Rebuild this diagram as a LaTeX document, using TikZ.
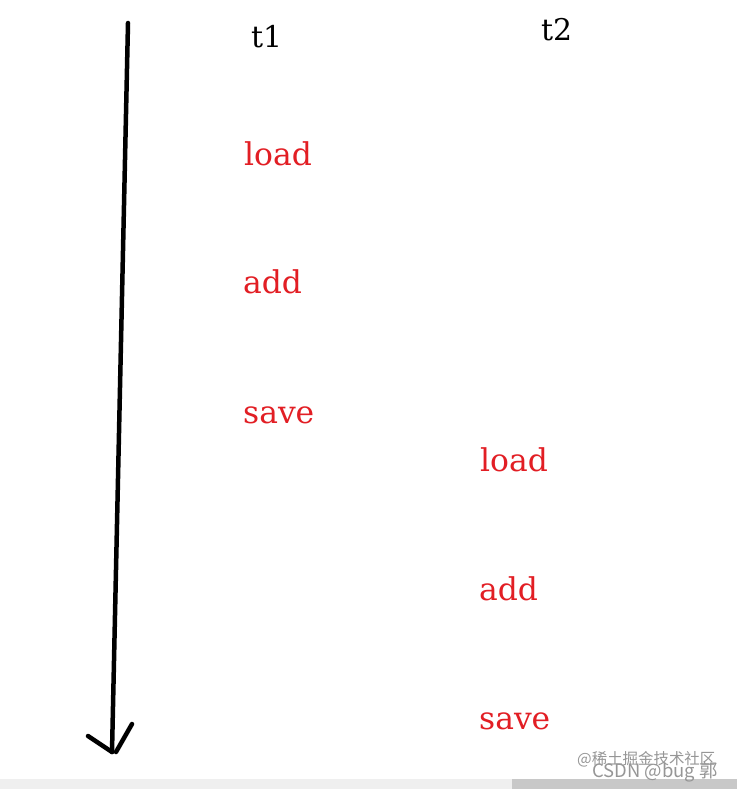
\documentclass[tikz,border=0pt]{standalone}
\usepackage{fontspec}
\setmainfont{DejaVu Serif}
\newfontfamily\wmfont{Noto Sans CJK SC}
\definecolor{opred}{RGB}{226,30,36}
\definecolor{barlight}{RGB}{239,239,239}
\definecolor{bardark}{RGB}{200,200,200}
\definecolor{wmgray}{RGB}{150,150,150}
\begin{document}
\begin{tikzpicture}[x=1bp,y=-1bp,
  optext/.style={anchor=base west,inner sep=0pt,text=opred,font=\fontsize{31.5}{31.5}\selectfont},
  thtext/.style={anchor=base west,inner sep=0pt,text=black,font=\fontsize{30}{30}\selectfont},
  wmtext/.style={anchor=base west,inner sep=0pt,text=wmgray},
  stroke/.style={line width=4.5bp,line cap=round,black}]
\useasboundingbox[fill=white] (0,0) rectangle (737,789);
\fill[barlight] (0,779) rectangle (512,789);
\fill[bardark] (512,779) rectangle (737,789);
% time arrow
\coordinate (top) at (128,23);
\coordinate (tip) at (112,752);
\coordinate (hl) at (88,736);
\coordinate (hr) at (132,724);
\draw[stroke] (top) -- (tip);
\draw[stroke] (hl) -- (tip);
\draw[stroke] (hr) -- ([xshift=4bp]tip);
% headers
\node[thtext] (t1) at (251,48) {t1};
\node[thtext] (t2) at (541,41) {t2};
% thread 1
\node[optext] (l1) at (244,165) {load};
\node[optext] (a1) at (243,293) {add};
\node[optext] (s1) at (243,423) {save};
% thread 2
\node[optext] (l2) at (480,471) {load};
\node[optext] (a2) at (479,600) {add};
\node[optext] (s2) at (479,729) {save};
% watermark
\node[wmtext,font=\wmfont\fontsize{15.5}{15.5}\selectfont] (w1) at (577,764) {@稀土掘金技术社区};
\node[wmtext,font=\wmfont\fontsize{18.5}{18.5}\selectfont] (w2) at (592,777) {CSDN @bug 郭};
\end{tikzpicture}
\end{document}
